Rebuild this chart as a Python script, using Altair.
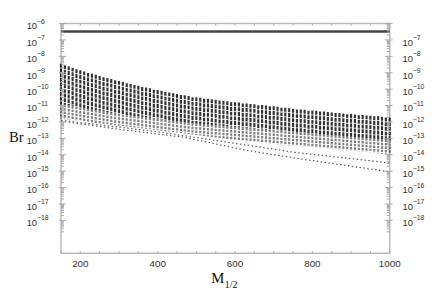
import altair as alt
import pandas as pd

# x grid of the scan (M_1/2)
col_x = list(range(150, 1001, 10))
# log10 of the highest Br in each column
col_top = [-8.45, -8.55, -8.61, -8.69, -8.79, -8.85, -8.92, -9.01, -9.06, -9.13,
           -9.20, -9.28, -9.32, -9.38, -9.46, -9.50, -9.56, -9.64, -9.68, -9.74,
           -9.80, -9.87, -9.90, -9.95, -10.03, -10.05, -10.10, -10.17, -10.20, -10.25,
           -10.30, -10.36, -10.38, -10.42, -10.49, -10.50, -10.53, -10.59, -10.59, -10.62,
           -10.65, -10.70, -10.71, -10.74, -10.80, -10.80, -10.82, -10.87, -10.87, -10.90,
           -10.92, -10.98, -10.97, -11.00, -11.05, -11.05, -11.08, -11.13, -11.14, -11.17,
           -11.20, -11.24, -11.24, -11.26, -11.31, -11.30, -11.32, -11.37, -11.37, -11.40,
           -11.42, -11.46, -11.46, -11.48, -11.53, -11.52, -11.54, -11.59, -11.58, -11.60,
           -11.62, -11.66, -11.66, -11.69, -11.73, -11.73]
# log10 of the lower edge of the dark upper part of each column
col_mid = [-10.90, -10.95, -11.00, -11.04, -11.08, -11.12, -11.16, -11.20, -11.24, -11.28,
           -11.32, -11.36, -11.40, -11.44, -11.48, -11.51, -11.54, -11.57, -11.60, -11.63,
           -11.66, -11.69, -11.72, -11.75, -11.78, -11.81, -11.84, -11.87, -11.90, -11.93,
           -11.96, -11.99, -12.02, -12.05, -12.08, -12.10, -12.12, -12.14, -12.16, -12.18,
           -12.20, -12.22, -12.24, -12.26, -12.28, -12.30, -12.32, -12.34, -12.36, -12.38,
           -12.40, -12.42, -12.44, -12.46, -12.48, -12.50, -12.52, -12.54, -12.56, -12.58,
           -12.60, -12.62, -12.64, -12.66, -12.68, -12.70, -12.72, -12.74, -12.76, -12.78,
           -12.80, -12.82, -12.84, -12.86, -12.88, -12.90, -12.92, -12.94, -12.96, -12.98,
           -13.00, -13.02, -13.04, -13.06, -13.08, -13.10]
# log10 of the lowest Br of the dense part of each column
col_bot = [-11.80, -11.83, -11.86, -11.89, -11.92, -11.94, -11.97, -12.00, -12.03, -12.06,
           -12.08, -12.11, -12.14, -12.17, -12.20, -12.22, -12.25, -12.28, -12.31, -12.34,
           -12.36, -12.39, -12.42, -12.45, -12.48, -12.50, -12.53, -12.56, -12.59, -12.62,
           -12.65, -12.68, -12.71, -12.74, -12.77, -12.80, -12.83, -12.86, -12.89, -12.92,
           -12.95, -12.98, -13.01, -13.04, -13.07, -13.10, -13.13, -13.16, -13.20, -13.22,
           -13.24, -13.26, -13.28, -13.30, -13.33, -13.35, -13.37, -13.39, -13.41, -13.43,
           -13.45, -13.47, -13.49, -13.51, -13.53, -13.55, -13.57, -13.59, -13.61, -13.63,
           -13.65, -13.67, -13.69, -13.71, -13.73, -13.75, -13.77, -13.79, -13.81, -13.83,
           -13.85, -13.88, -13.91, -13.94, -13.97, -14.00]

# trailing dotted curves (lowest Br values)
curve1_x = [150, 300, 467, 627, 754, 1000]
curve1_log = [-11.95, -12.45, -12.93, -13.72, -14.20, -15.04]
curve2_x = [150, 400, 627, 754, 1000]
curve2_log = [-11.90, -12.60, -13.40, -13.85, -14.50]

# experimental bound
bound = 3.3e-7

y_left_exp = [-6, -7, -8, -9, -10, -11, -12, -13, -14, -15, -16, -17, -18]
y_right_exp = [-7, -8, -9, -10, -11, -12, -13, -14, -15, -16, -17, -18]
x_label_vals = [200, 400, 600, 800, 1000]
x_tick_vals = list(range(150, 1001, 50))

W, H = 335, 234
XS = alt.Scale(domain=[150, 1000], nice=False, zero=False)
YS = alt.Scale(type="log", domain=[1e-20, 1e-6], nice=False)

cols = pd.DataFrame({"x": col_x,
                     "top": [10 ** v for v in col_top],
                     "mid": [10 ** v for v in col_mid],
                     "bot": [10 ** v for v in col_bot]})
rows = []
for cid, xs, ys in (("c1", curve1_x, curve1_log), ("c2", curve2_x, curve2_log)):
    for a, b in zip(xs, ys):
        rows.append({"c": cid, "x": a, "y": 10 ** b})
curves = pd.DataFrame(rows)

major = pd.DataFrame({"v": [10.0 ** e for e in range(-6, -19, -1)]})
minor = pd.DataFrame({"v": [k * 10.0 ** e for e in range(-19, -6) for k in range(2, 10)]})
lab_left = pd.DataFrame({"v": [10.0 ** e for e in y_left_exp],
                         "e": ["\u2212" + str(-e) for e in y_left_exp]})
lab_right = pd.DataFrame({"v": [10.0 ** e for e in y_right_exp],
                          "e": ["\u2212" + str(-e) for e in y_right_exp]})
xticks = pd.DataFrame({"x": x_tick_vals})
xlabs = pd.DataFrame({"x": x_label_vals, "t": [str(v) for v in x_label_vals]})

col_low = alt.Chart(cols).mark_rule(strokeWidth=2.2, strokeDash=[2.5, 1], color="black",
                                    opacity=0.5).encode(
    x=alt.X("x:Q", scale=XS, axis=None),
    y=alt.Y("mid:Q", scale=YS, axis=None),
    y2="bot:Q")
col_high = alt.Chart(cols).mark_rule(strokeWidth=2.2, strokeDash=[4, 0.8], color="black",
                                     opacity=0.8).encode(
    x=alt.X("x:Q", scale=XS, axis=None),
    y=alt.Y("top:Q", scale=YS, axis=None),
    y2="mid:Q")

curve_layer = alt.Chart(curves).mark_line(strokeWidth=1.3, strokeDash=[1.5, 2.5],
                                          color="#666").encode(
    x=alt.X("x:Q", scale=XS, axis=None),
    y=alt.Y("y:Q", scale=YS, axis=None),
    detail="c:N")

bound_layer = alt.Chart(pd.DataFrame({"b": [bound]})).mark_rule(
    strokeWidth=2.5, color="#444").encode(
    y=alt.Y("b:Q", scale=YS, axis=None), x=alt.value(0), x2=alt.value(W))

def ytick(df, x0, x1, col="#aaa"):
    return alt.Chart(df).mark_rule(color=col, strokeWidth=1).encode(
        y=alt.Y("v:Q", scale=YS, axis=None), x=alt.value(x0), x2=alt.value(x1))

ticks = [ytick(major, -2, 5), ytick(minor, 0, 3),
         ytick(major, W - 5, W + 3), ytick(minor, W - 3, W)]

xt_bot = alt.Chart(xticks).mark_rule(color="#aaa").encode(
    x=alt.X("x:Q", scale=XS, axis=None), y=alt.value(H - 2), y2=alt.value(H))
xt_top = alt.Chart(xticks).mark_rule(color="#aaa").encode(
    x=alt.X("x:Q", scale=XS, axis=None), y=alt.value(0), y2=alt.value(2))

FONT = "Liberation Sans"
def ylab(df, x0):
    base = alt.Chart(df).mark_text(align="left", baseline="middle", font=FONT,
                                   fontSize=9.5, color="#333", dy=3).encode(
        y=alt.Y("v:Q", scale=YS, axis=None), x=alt.value(x0), text=alt.value("10"))
    exp = alt.Chart(df).mark_text(align="left", baseline="middle", font=FONT,
                                  fontSize=7, color="#333", dy=-2).encode(
        y=alt.Y("v:Q", scale=YS, axis=None), x=alt.value(x0 + 10.5), text="e:N")
    return [base, exp]

xlab_layer = alt.Chart(xlabs).mark_text(font=FONT, fontSize=10, color="#333",
                                        baseline="middle").encode(
    x=alt.X("x:Q", scale=XS, axis=None), y=alt.value(H + 11), text="t:N")

title_df = pd.DataFrame({"a": [0]})
ytitle = alt.Chart(title_df).mark_text(font="Liberation Serif", fontSize=15, align="left",
                                       baseline="alphabetic", color="#111").encode(
    x=alt.value(-53), y=alt.value(121), text=alt.value("Br"))
xtitle_m = alt.Chart(title_df).mark_text(font="Liberation Serif", fontSize=15, align="left",
                                         baseline="alphabetic", color="#111").encode(
    x=alt.value(153), y=alt.value(264), text=alt.value("M"))
xtitle_s = alt.Chart(title_df).mark_text(font="Liberation Serif", fontSize=10, align="left",
                                         baseline="alphabetic", color="#111").encode(
    x=alt.value(167), y=alt.value(269), text=alt.value("1/2"))

chart = alt.layer(col_low, col_high, curve_layer, bound_layer, *ticks, xt_bot, xt_top,
                  *ylab(lab_left, -35), *ylab(lab_right, 348), xlab_layer,
                  ytitle, xtitle_m, xtitle_s).properties(
    width=W, height=H,
    autosize=alt.AutoSizeParams(type="none"),
    padding={"left": 54, "top": 13, "right": 39, "bottom": 50},
).configure_view(stroke="#bbb", strokeWidth=1.5)

chart.save("out.html", embed_options={"renderer": "svg", "actions": False})
